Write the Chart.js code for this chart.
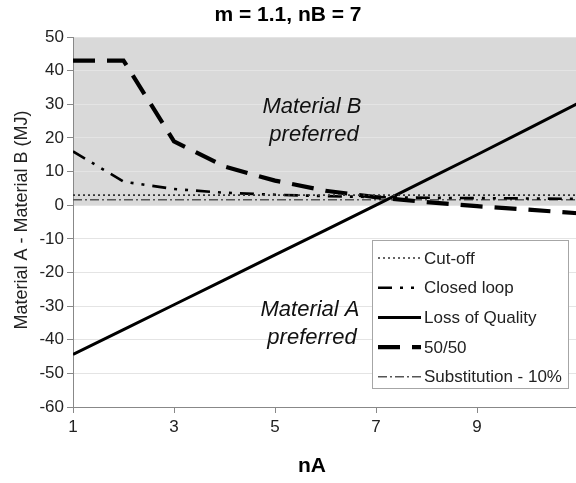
<!DOCTYPE html>
<html>
<head>
<meta charset="utf-8">
<script src="https://cdn.jsdelivr.net/npm/chart.js@4.4.0/dist/chart.umd.min.js"></script>
<style>
html,body{margin:0;padding:0;background:#fff;overflow:hidden;}
canvas{display:block;}
</style>
</head>
<body>
<canvas id="c" width="582" height="483"></canvas>
<script>
// ---- data ----
const nA = [1, 2, 3, 4, 5, 6, 7, 8, 9, 10, 11];
const cutOff = [3, 3, 3, 3, 3, 3, 3, 3, 3, 3, 3];
const closedLoop = [16, 7, 4.8, 3.7, 3.1, 2.7, 2.4, 2.2, 2.1, 2.0, 1.9];
const lossOfQuality = [-44.4, -37, -29.6, -22.2, -14.8, -7.4, 0, 7.5, 15, 22.6, 30.3];
const fiftyFifty = [43, 43, 19, 11.5, 7.3, 4.3, 2.4, 0.9, -0.3, -1.3, -2.4];
const substitution10 = [1.6, 1.6, 1.6, 1.6, 1.6, 1.6, 1.6, 1.6, 1.6, 1.6, 1.6];
const seriesNames = ['Cut-off', 'Closed loop', 'Loss of Quality', '50/50', 'Substitution - 10%'];
const xTicks = [1, 3, 5, 7, 9];
const yTicks = [-60, -50, -40, -30, -20, -10, 0, 10, 20, 30, 40, 50];
const titleText = 'm = 1.1, nB = 7';
const xTitle = 'nA';
const yTitle = 'Material A - Material B (MJ)';
const regionB = ['Material B', 'preferred'];
const regionA = ['Material A', 'preferred'];

const FONT = '"Liberation Sans", Arial, sans-serif';
const toXY = arr => arr.map((v, i) => ({x: nA[i], y: v}));

const styles = [
  {borderColor: '#333', borderWidth: 1.7, borderDash: [2, 3]},
  {borderColor: '#000', borderWidth: 2.6, borderDash: [14, 8, 3, 8, 3, 8]},
  {borderColor: '#000', borderWidth: 3, borderDash: []},
  {borderColor: '#000', borderWidth: 4.2, borderDash: [22, 12]},
  {borderColor: '#555', borderWidth: 1.6, borderDash: [9, 3, 2, 3]}
];
const seriesData = [cutOff, closedLoop, lossOfQuality, fiftyFifty, substitution10];

const datasets = seriesData.map((d, i) => Object.assign({
  label: seriesNames[i],
  data: toXY(d),
  pointRadius: 0,
  fill: false,
  tension: 0,
  borderCapStyle: 'butt',
  borderJoinStyle: 'miter'
}, styles[i]));

const decor = {
  id: 'decor',
  beforeDraw(chart) {
    const {ctx, chartArea: a, scales: {y}} = chart;
    ctx.save();
    ctx.fillStyle = '#d9d9d9';
    const top = y.getPixelForValue(50), zero = y.getPixelForValue(0);
    ctx.fillRect(a.left, top, a.right - a.left, zero - top);
    ctx.restore();
  },
  afterDraw(chart) {
    const {ctx} = chart;
    ctx.save();
    ctx.fillStyle = '#000';
    ctx.textAlign = 'center';
    ctx.textBaseline = 'middle';
    ctx.font = 'bold 21px ' + FONT;
    ctx.fillText(titleText, 288, 15);
    ctx.fillText(xTitle, 312, 466);
    ctx.save();
    ctx.translate(22, 220);
    ctx.rotate(-Math.PI / 2);
    ctx.font = '18px ' + FONT;
    ctx.fillStyle = '#222';
    ctx.fillText(yTitle, 0, 0);
    ctx.restore();
    ctx.font = 'italic 22px ' + FONT;
    ctx.fillStyle = '#111';
    ctx.fillText(regionB[0], 312, 107);
    ctx.fillText(regionB[1], 314, 135);
    ctx.fillText(regionA[0], 310, 310);
    ctx.fillText(regionA[1], 312, 338);
    // legend
    const lx = 372.5, ly = 240.5, lw = 196, lh = 148;
    ctx.fillStyle = '#fff';
    ctx.fillRect(lx, ly, lw, lh);
    ctx.strokeStyle = '#a6a6a6';
    ctx.lineWidth = 1;
    ctx.strokeRect(lx, ly, lw, lh);
    chart.data.datasets.forEach((ds, i) => {
      const yy = 258 + i * 29.7;
      ctx.save();
      ctx.strokeStyle = ds.borderColor;
      ctx.lineWidth = ds.borderWidth;
      ctx.setLineDash(ds.borderDash);
      ctx.lineCap = 'butt';
      ctx.beginPath();
      ctx.moveTo(378, yy);
      ctx.lineTo(421, yy);
      ctx.stroke();
      ctx.restore();
      ctx.fillStyle = '#222';
      ctx.textAlign = 'left';
      ctx.font = '17px ' + FONT;
      ctx.fillText(ds.label, 424, yy + 1);
    });
    ctx.restore();
  }
};

new Chart(document.getElementById('c'), {
  type: 'line',
  data: {datasets},
  options: {
    responsive: false,
    devicePixelRatio: 1,
    animation: false,
    layout: {padding: {top: 37, right: 4, bottom: 0, left: 0}},
    plugins: {legend: {display: false}, title: {display: false}, tooltip: {enabled: false}},
    scales: {
      x: {
        type: 'linear', min: 1, max: 11,
        afterBuildTicks: s => { s.ticks = xTicks.map(v => ({value: v})); },
        afterFit: s => { s.height = 76; },
        ticks: {color: '#222', font: {family: FONT, size: 17}, padding: 4, maxRotation: 0, autoSkip: false},
        grid: {drawOnChartArea: false, tickLength: 6, tickColor: '#888'},
        border: {color: '#888', width: 1}
      },
      y: {
        min: -60, max: 50,
        afterBuildTicks: s => { s.ticks = yTicks.map(v => ({value: v})); },
        afterFit: s => { s.width = 73; },
        ticks: {color: '#222', font: {family: FONT, size: 17}, padding: 3},
        grid: {color: '#e4e4e4', tickLength: 6, tickColor: '#888'},
        border: {color: '#888', width: 1}
      }
    }
  },
  plugins: [decor]
});
</script>
</body>
</html>
